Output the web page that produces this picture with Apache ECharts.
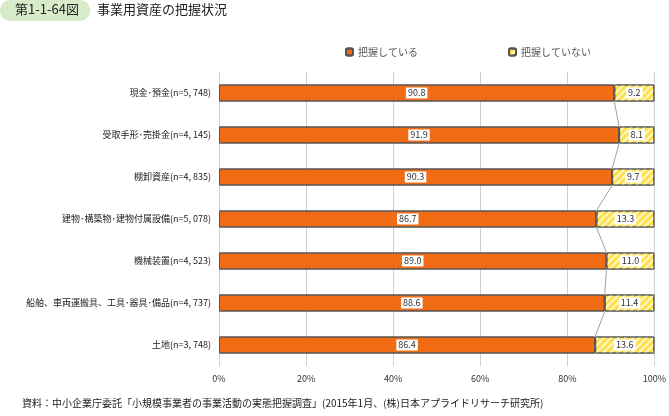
<!DOCTYPE html><html><head><meta charset="utf-8"><script src="https://cdn.jsdelivr.net/npm/echarts@6/dist/echarts.min.js"></script></head><body style="margin:0"><div id="c" style="width:669px;height:416px"></div><script>
const categories=["現金･預金(n=5, 748)","受取手形･売掛金(n=4, 145)","棚卸資産(n=4, 835)","建物･構築物･建物付属設備(n=5, 078)","機械装置(n=4, 523)","船舶、車両運搬具、工具･器具･備品(n=4, 737)","土地(n=3, 748)"];
const grasped=[90.8,91.9,90.3,86.7,89.0,88.6,86.4];
const notGrasped=[9.2,8.1,9.7,13.3,11.0,11.4,13.6];
const xTicks=[0,20,40,60,80,100];
const F="'Noto Sans CJK JP'";
const lbl={show:true,position:'inside',color:'#333',fontSize:9,fontFamily:F,backgroundColor:'#fff',padding:[1,2],formatter:p=>p.value.toFixed(1)};
const chart=echarts.init(document.getElementById('c'));
chart.setOption({
animation:false,
textStyle:{fontFamily:F},
graphic:[
{type:'rect',shape:{x:0,y:0,width:90,height:21,r:10},style:{fill:'#d7ebc8'}},
{type:'text',left:15,top:3,style:{text:'第1-1-64図',fontSize:13,fill:'#222',fontFamily:F}},
{type:'text',left:97,top:3,style:{text:'事業用資産の把握状況',fontSize:13,fill:'#222',fontFamily:F}},
{type:'text',left:22,top:398,style:{text:'資料：中小企業庁委託「小規模事業者の事業活動の実態把握調査」(2015年1月、(株)日本アプライドリサーチ研究所)',fontSize:10,fill:'#222',fontFamily:F}}
],
legend:{top:42,left:340,itemGap:90,itemWidth:7,itemHeight:7,textStyle:{fontSize:10,fontFamily:F},data:['把握している','把握していない']},
grid:{left:219,right:11,top:72,bottom:50},
xAxis:{type:'value',min:0,max:100,interval:20,axisLabel:{formatter:v=>v+'%',fontSize:9,color:'#333'},splitLine:{lineStyle:{color:'#d0d0d0'}},axisLine:{show:false},axisTick:{show:false}},
yAxis:{type:'category',inverse:true,data:categories,axisLabel:{fontSize:9,color:'#222',margin:8},axisLine:{show:true,lineStyle:{color:'#d0d0d0'}},axisTick:{show:false}},
series:[
{name:'把握している',type:'bar',stack:'a',barWidth:17,data:grasped,label:lbl,
 itemStyle:{color:'#f26a12',borderColor:'#555',borderWidth:1,decal:{symbol:'rect',color:'rgba(255,230,200,0.7)',symbolSize:0.35,dashArrayX:[[1,3]],dashArrayY:[1,3]}}},
{name:'把握していない',type:'bar',stack:'a',barWidth:17,data:notGrasped,label:lbl,
 itemStyle:{color:'#ffe04a',borderColor:'#555',borderWidth:1,decal:{symbol:'rect',color:'#fff8c8',dashArrayX:[1,0],dashArrayY:[1.5,2.5],rotation:-Math.PI/4}}},
{type:'custom',silent:true,data:grasped.slice(0,-1).map((v,i)=>[v,i,grasped[i+1]]),
 renderItem:(params,api)=>{const a=api.coord([api.value(0),api.value(1)]);const b=api.coord([api.value(2),api.value(1)+1]);
 return {type:'line',shape:{x1:a[0],y1:a[1]+8.5,x2:b[0],y2:b[1]-8.5},style:{stroke:'#777',lineWidth:0.7}};},z:5}
]});
</script></body></html>
